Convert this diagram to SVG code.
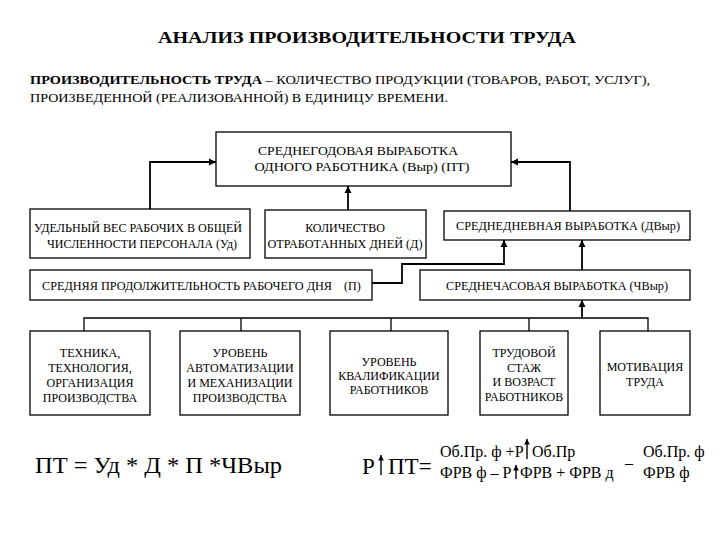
<svg xmlns="http://www.w3.org/2000/svg" width="720" height="540" viewBox="0 0 720 540">
<style>
.b{fill:#fff;stroke:#000;stroke-width:1.3}
.c{fill:none;stroke:#000;stroke-width:1.3}
.a{fill:none;stroke:#000;stroke-width:1.8;marker-end:url(#ah)}
.s{fill:none;stroke:#000;stroke-width:1.4;marker-end:url(#ah)}
</style>
<defs>
<marker id="ah" viewBox="0 0 10 10" refX="10" refY="5" markerWidth="4" markerHeight="4" orient="auto" markerUnits="strokeWidth">
<path d="M0,0 L10,5 L0,10 z" fill="#000"/>
</marker>
</defs>
<rect width="720" height="540" fill="#fff"/>
<g id="header">
<text font-family="Liberation Serif" x="367" y="43" font-size="17" font-weight="bold" text-anchor="middle" textLength="418" lengthAdjust="spacingAndGlyphs">АНАЛИЗ ПРОИЗВОДИТЕЛЬНОСТИ ТРУДА</text>
<text font-family="Liberation Serif" x="30" y="84" font-size="12.5" textLength="620" lengthAdjust="spacingAndGlyphs"><tspan font-weight="bold">ПРОИЗВОДИТЕЛЬНОСТЬ ТРУДА</tspan> – КОЛИЧЕСТВО ПРОДУКЦИИ (ТОВАРОВ, РАБОТ, УСЛУГ),</text>
<text font-family="Liberation Serif" x="30" y="102" font-size="12.5" textLength="418" lengthAdjust="spacingAndGlyphs">ПРОИЗВЕДЕННОЙ (РЕАЛИЗОВАННОЙ) В ЕДИНИЦУ ВРЕМЕНИ.</text>
</g>

<g id="connectors">
<polyline class="a" points="150,209 150,162 216,162"/>
<polyline class="a" points="570,211 570,162 511,162"/>
<polyline class="a" points="348,210 348,186"/>
<polyline class="a" points="372,283 402,283 402,264 504,264 504,240"/>
<polyline class="a" points="582,270 582,240"/>
<polyline class="a" points="582,318 582,300"/>
<polyline class="c" points="84,331 84,318 648,318 648,331"/>
<line class="c" x1="241" y1="318" x2="241" y2="331"/>
<line class="c" x1="391" y1="318" x2="391" y2="331"/>
<line class="c" x1="529" y1="318" x2="529" y2="331"/>
</g>

<g id="n-vyr">
<rect class="b" x="216" y="132" width="295" height="54"/>
<text font-family="Liberation Serif" font-size="12" text-anchor="middle" x="358" y="155" textLength="200" lengthAdjust="spacingAndGlyphs">СРЕДНЕГОДОВАЯ ВЫРАБОТКА</text>
<text font-family="Liberation Serif" font-size="12" text-anchor="middle" x="362" y="171" textLength="215" lengthAdjust="spacingAndGlyphs">ОДНОГО РАБОТНИКА (Выр) (ПТ)</text>
</g>
<g id="n-ud">
<rect class="b" x="30" y="209" width="220" height="49"/>
<text font-family="Liberation Serif" font-size="12" text-anchor="middle" x="138" y="232" textLength="208" lengthAdjust="spacingAndGlyphs">УДЕЛЬНЫЙ ВЕС РАБОЧИХ В ОБЩЕЙ</text>
<text font-family="Liberation Serif" font-size="12" text-anchor="middle" x="142" y="248" textLength="190" lengthAdjust="spacingAndGlyphs">ЧИСЛЕННОСТИ ПЕРСОНАЛА  (Уд)</text>
</g>
<g id="n-d">
<rect class="b" x="265" y="210" width="161" height="48"/>
<text font-family="Liberation Serif" font-size="12" text-anchor="middle" x="345" y="232">КОЛИЧЕСТВО</text>
<text font-family="Liberation Serif" font-size="12" text-anchor="middle" x="345" y="248" textLength="155" lengthAdjust="spacingAndGlyphs">ОТРАБОТАННЫХ ДНЕЙ (Д)</text>
</g>
<g id="n-dvyr">
<rect class="b" x="444" y="211" width="246" height="29"/>
<text font-family="Liberation Serif" font-size="12" text-anchor="middle" x="568" y="230" textLength="224" lengthAdjust="spacingAndGlyphs">СРЕДНЕДНЕВНАЯ ВЫРАБОТКА  (ДВыр)</text>
</g>
<g id="n-p">
<rect class="b" x="30" y="270" width="342" height="30"/>
<text font-family="Liberation Serif" font-size="12" x="42" y="290" textLength="290" lengthAdjust="spacingAndGlyphs">СРЕДНЯЯ ПРОДОЛЖИТЕЛЬНОСТЬ РАБОЧЕГО  ДНЯ</text>
<text font-family="Liberation Serif" font-size="12" x="344" y="290">(П)</text>
</g>
<g id="n-chvyr">
<rect class="b" x="420" y="270" width="270" height="30"/>
<text font-family="Liberation Serif" font-size="12" text-anchor="middle" x="557" y="290" textLength="222" lengthAdjust="spacingAndGlyphs">СРЕДНЕЧАСОВАЯ ВЫРАБОТКА (ЧВыр)</text>
</g>
<g id="n-tech">
<rect class="b" x="30" y="331" width="120" height="84"/>
<text font-family="Liberation Serif" font-size="12" text-anchor="middle" x="90" y="357">ТЕХНИКА,</text>
<text font-family="Liberation Serif" font-size="12" text-anchor="middle" x="90" y="372">ТЕХНОЛОГИЯ,</text>
<text font-family="Liberation Serif" font-size="12" text-anchor="middle" x="90" y="387">ОРГАНИЗАЦИЯ</text>
<text font-family="Liberation Serif" font-size="12" text-anchor="middle" x="90" y="402">ПРОИЗВОДСТВА</text>
</g>
<g id="n-auto">
<rect class="b" x="180" y="331" width="120" height="84"/>
<text font-family="Liberation Serif" font-size="12" text-anchor="middle" x="240" y="357">УРОВЕНЬ</text>
<text font-family="Liberation Serif" font-size="12" text-anchor="middle" x="240" y="372">АВТОМАТИЗАЦИИ</text>
<text font-family="Liberation Serif" font-size="12" text-anchor="middle" x="240" y="387">И МЕХАНИЗАЦИИ</text>
<text font-family="Liberation Serif" font-size="12" text-anchor="middle" x="240" y="402">ПРОИЗВОДСТВА</text>
</g>
<g id="n-qual">
<rect class="b" x="330" y="331" width="118" height="84"/>
<text font-family="Liberation Serif" font-size="12" text-anchor="middle" x="389" y="366">УРОВЕНЬ</text>
<text font-family="Liberation Serif" font-size="12" text-anchor="middle" x="389" y="380">КВАЛИФИКАЦИИ</text>
<text font-family="Liberation Serif" font-size="12" text-anchor="middle" x="389" y="394">РАБОТНИКОВ</text>
</g>
<g id="n-stazh">
<rect class="b" x="480" y="331" width="88" height="84"/>
<text font-family="Liberation Serif" font-size="12" text-anchor="middle" x="524" y="357">ТРУДОВОЙ</text>
<text font-family="Liberation Serif" font-size="12" text-anchor="middle" x="524" y="372">СТАЖ</text>
<text font-family="Liberation Serif" font-size="12" text-anchor="middle" x="524" y="386">И ВОЗРАСТ</text>
<text font-family="Liberation Serif" font-size="12" text-anchor="middle" x="524" y="401">РАБОТНИКОВ</text>
</g>
<g id="n-motiv">
<rect class="b" x="600" y="331" width="90" height="84"/>
<text font-family="Liberation Serif" font-size="12" text-anchor="middle" x="645" y="371">МОТИВАЦИЯ</text>
<text font-family="Liberation Serif" font-size="12" text-anchor="middle" x="645" y="386">ТРУДА</text>
</g>

<g id="formula-1">
<text font-family="Liberation Serif" font-size="23" x="35" y="473" textLength="247" lengthAdjust="spacingAndGlyphs">ПТ = Уд * Д * П *ЧВыр</text>
</g>
<g id="formula-2">
<text font-family="Liberation Serif" font-size="23" x="362" y="474">Р</text>
<text font-family="Liberation Serif" font-size="23" x="388" y="474">ПТ=</text>
<text font-family="Liberation Serif" font-size="16" x="440" y="457">Об.Пр. ф +Р</text>
<text font-family="Liberation Serif" font-size="16" x="532" y="457">Об.Пр</text>
<text font-family="Liberation Serif" font-size="16" x="440" y="478">ФРВ ф – Р</text>
<text font-family="Liberation Serif" font-size="16" x="520" y="478">ФРВ + ФРВ д</text>
<text font-family="Liberation Serif" font-size="16" x="625" y="468">–</text>
<text font-family="Liberation Serif" font-size="16" x="643" y="457">Об.Пр. ф</text>
<text font-family="Liberation Serif" font-size="16" x="643" y="478">ФРВ ф</text>
<line class="s" x1="381" y1="475" x2="381" y2="455"/>
<line class="s" x1="527" y1="459" x2="527" y2="439"/>
<line class="s" x1="516" y1="479" x2="516" y2="465"/>
</g>
</svg>
